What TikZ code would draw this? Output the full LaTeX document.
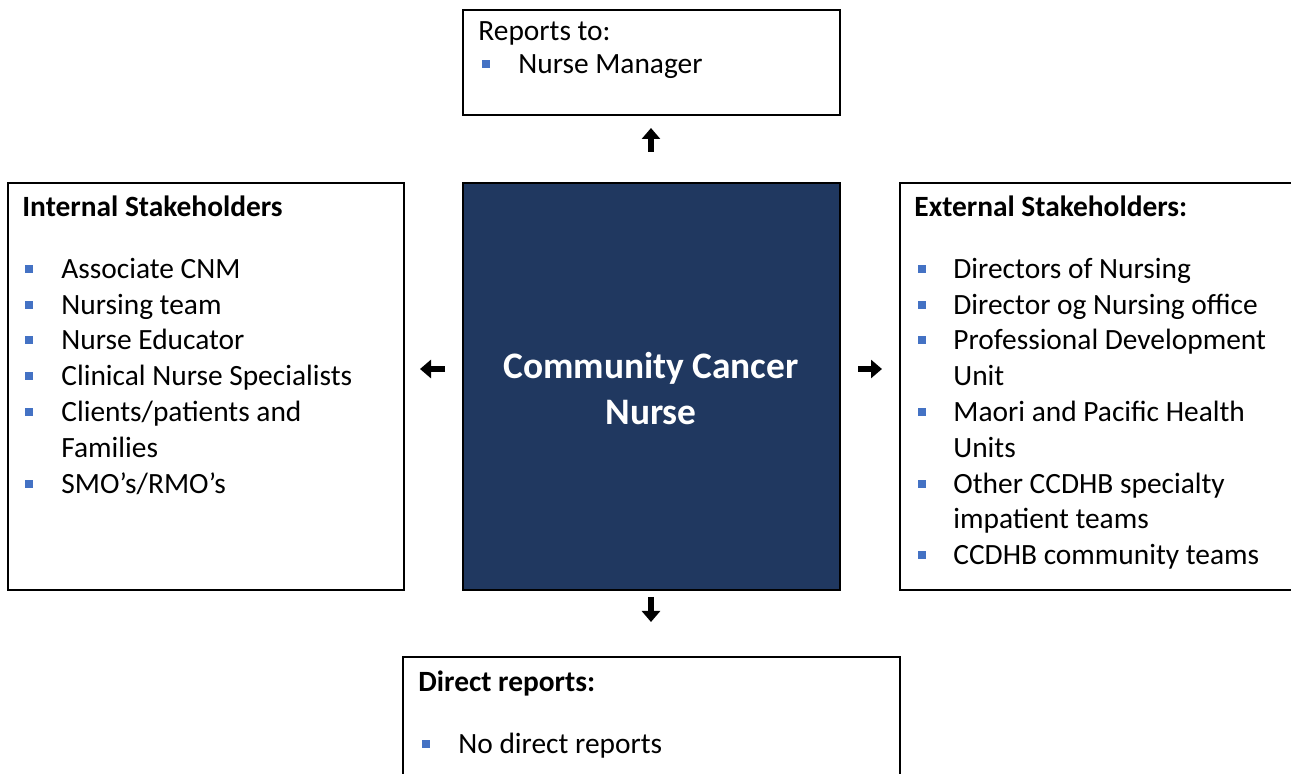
\documentclass[tikz,border=0pt]{standalone}
\usepackage{fontspec}
\setmainfont{Carlito}
\usetikzlibrary{arrows.meta}

\definecolor{navy}{RGB}{32,56,96}
\definecolor{bulletblue}{RGB}{68,114,196}

\begin{document}
\begin{tikzpicture}[x=0.5pt, y=-0.5pt]

\tikzset{box/.style = {draw, line width=1.1pt, anchor=north west, inner sep=0pt},
	txt/.style = {anchor=base west, inner sep=0pt, font=\fontsize{14.7}{18}\selectfont},
	head/.style = {txt, font=\fontsize{14.7}{18}\selectfont\bfseries},
	dot/.style = {fill=bulletblue, minimum size=4pt, inner sep=0pt},
	pointer/.style = {-{Triangle[width=9pt, length=5.5pt]}, line width=2.6pt}}

\clip (0, 0) rectangle (1291, 774);

% boxes
\node[box, minimum width=188.5pt, minimum height=52.5pt] (top) at (462, 9) {};
\node[box, minimum width=198pt, minimum height=203.5pt] (int) at (7, 182) {};
\node[box, fill=navy, minimum width=188.5pt, minimum height=203.5pt] (ccn) at (462, 182) {};
\node[box, minimum width=197pt, minimum height=203.5pt] (ext) at (899, 182) {};
\node[box, minimum width=248.5pt, minimum height=82pt] (dir) at (402, 656) {};

\node[align=center, text=white, font=\fontsize{18.7}{23}\selectfont\bfseries] (title) at (651, 389) {Community Cancer\\Nurse};

% reports to
\node[txt] (rep) at (478, 41) {Reports to:};
\node[dot] (d0) at (486, 64) {};
\node[txt] (nm) at (518, 74) {Nurse Manager};

% internal stakeholders
\node[head] (ih) at (22, 217) {Internal Stakeholders};
\foreach \y/\b/\t [count=\i] in {279/1/Associate CNM, 315/1/Nursing team, 350/1/Nurse Educator,
	386/1/Clinical Nurse Specialists, 422/1/{Clients/patients and}, 458/0/Families, 494/1/{SMO’s/RMO’s}}
{
	\node[txt] (il\i) at (61, \y) {\t};
	\ifnum\b=1 \node[dot] (id\i) at (29, \y - 10) {}; \fi
}

% external stakeholders
\node[head] (eh) at (914, 217) {External Stakeholders:};
\foreach \y/\b/\t [count=\i] in {279/1/Directors of Nursing, 315/1/Director og Nursing office,
	350/1/Professional Development, 386/0/Unit, 422/1/Maori and Pacific Health, 458/0/Units,
	494/1/Other CCDHB specialty, 529/0/impatient teams, 565/1/CCDHB community teams}
{
	\node[txt] (el\i) at (953, \y) {\t};
	\ifnum\b=1 \node[dot] (ed\i) at (922, \y - 10) {}; \fi
}

% direct reports
\node[head] (dh) at (418, 692) {Direct reports:};
\node[dot] (d1) at (426, 744) {};
\node[txt] (nd) at (458, 754) {No direct reports};

% arrows
\coordinate (up1) at (651, 152);
\coordinate (up2) at (651, 128);
\coordinate (dn1) at (651, 597);
\coordinate (dn2) at (651, 622);
\coordinate (lf1) at (445, 369);
\coordinate (lf2) at (420, 369);
\coordinate (rt1) at (858, 369);
\coordinate (rt2) at (882, 369);

\draw[pointer] (up1) -- (up2);
\draw[pointer] (dn1) -- (dn2);
\draw[pointer] (lf1) -- (lf2);
\draw[pointer] (rt1) -- (rt2);

\end{tikzpicture}
\end{document}
